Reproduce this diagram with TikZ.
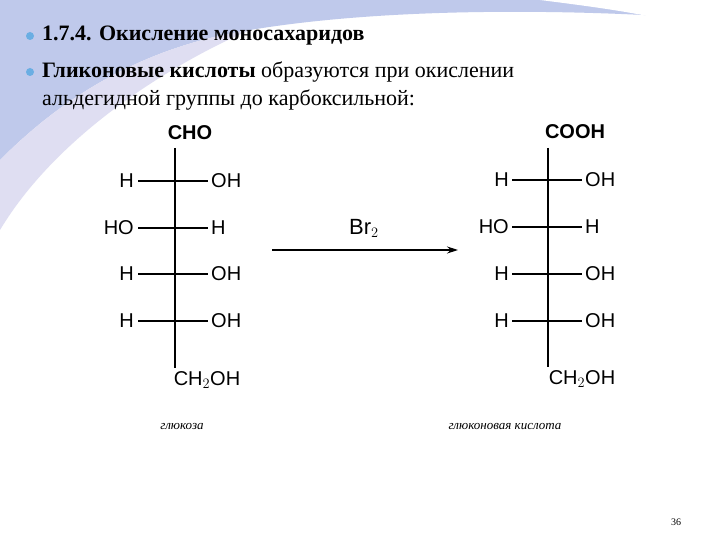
\documentclass[tikz,border=0pt]{standalone}
\usetikzlibrary{arrows.meta}
\usepackage{fontspec}
\setmainfont{Liberation Serif}
\setsansfont{Liberation Sans}
\begin{document}
\begin{tikzpicture}[x=1pt,y=-1pt,
  chem/.style={font=\sffamily\fontsize{20}{22}\selectfont,inner sep=0pt},
  bond/.style={line width=1.1pt},
  txt/.style={font=\fontsize{22}{24}\selectfont,inner sep=0pt,anchor=west},
  captxt/.style={font=\itshape\fontsize{13}{15}\selectfont,inner sep=0pt},
  bdot/.style={circle,fill=cyan!70!blue!60,inner sep=0pt,minimum size=8pt}]
\useasboundingbox (0,0) rectangle (720,540);
\fill[white] (0,0) rectangle (720,540);
% background wave
\fill[cyan!40!blue!25] (0,0) -- (720,0) -- (720,20) .. controls (600,10) and (400,5) .. (250,30) .. controls (120,50) and (40,120) .. (0,160) -- cycle;
\fill[cyan!20!blue!12] (0,160) .. controls (40,120) and (120,50) .. (250,30) .. controls (180,60) and (60,130) .. (0,230) -- cycle;
\fill[white] (540,0) .. controls (620,10) and (690,20) .. (720,40) -- (720,0) -- cycle;
% bullets
\node[bdot] (d1) at (30,36) {};
\node[bdot] (d2) at (30,72) {};
\node[txt] (t1) at (42,36) {\bfseries 1.7.4. Окисление моносахаридов};
\node[txt] (t2) at (42,72) {\bfseries Гликоновые кислоты \mdseries образуются при окислении};
\node[txt] (t3) at (42,100) {альдегидной группы до карбоксильной:};
% left molecule
\node[chem] (cho) at (190,133) {\bfseries CHO};
\coordinate (lt) at (175,148);
\coordinate (lb) at (175,368);
\draw[bond] (lt) -- (lb);
\foreach \y/\l/\r/\n in {181/H/OH/a,228/HO/H/b,274/H/OH/c,321/H/OH/d}{
  \coordinate (l\n1) at (138,\y); \coordinate (l\n2) at (208,\y);
  \draw[bond] (l\n1) -- (l\n2);
  \node[chem,anchor=east] (ll\n) at (134,\y) {\l};
  \node[chem,anchor=west] (lr\n) at (211,\y) {\r};
}
\node[chem] (ch2l) at (207,380) {CH$_2$OH};
% arrow
\coordinate (a1) at (272,250);
\coordinate (a2) at (458,250);
\draw[line width=1.1pt,-{Stealth[length=11pt,width=7pt]}] (a1) -- (a2);
\node[chem,font=\sffamily\fontsize{22}{24}\selectfont] (br) at (364,228) {Br$_2$};
% right molecule
\node[chem] (cooh) at (575,132) {\bfseries COOH};
\coordinate (rt) at (548,148);
\coordinate (rb) at (548,367);
\draw[bond] (rt) -- (rb);
\foreach \y/\l/\r/\n in {180/H/OH/a,227/HO/H/b,274/H/OH/c,321/H/OH/d}{
  \coordinate (r\n1) at (512,\y); \coordinate (r\n2) at (582,\y);
  \draw[bond] (r\n1) -- (r\n2);
  \node[chem,anchor=east] (rl\n) at (509,\y) {\l};
  \node[chem,anchor=west] (rr\n) at (585,\y) {\r};
}
\node[chem] (ch2r) at (582,379) {CH$_2$OH};
% captions
\node[captxt] (c1) at (182,427) {глюкоза};
\node[captxt] (c2) at (505,427) {глюконовая кислота};
\node[font=\fontsize{10}{12}\selectfont,inner sep=0pt] (pg) at (676,522) {36};
\end{tikzpicture}
\end{document}
